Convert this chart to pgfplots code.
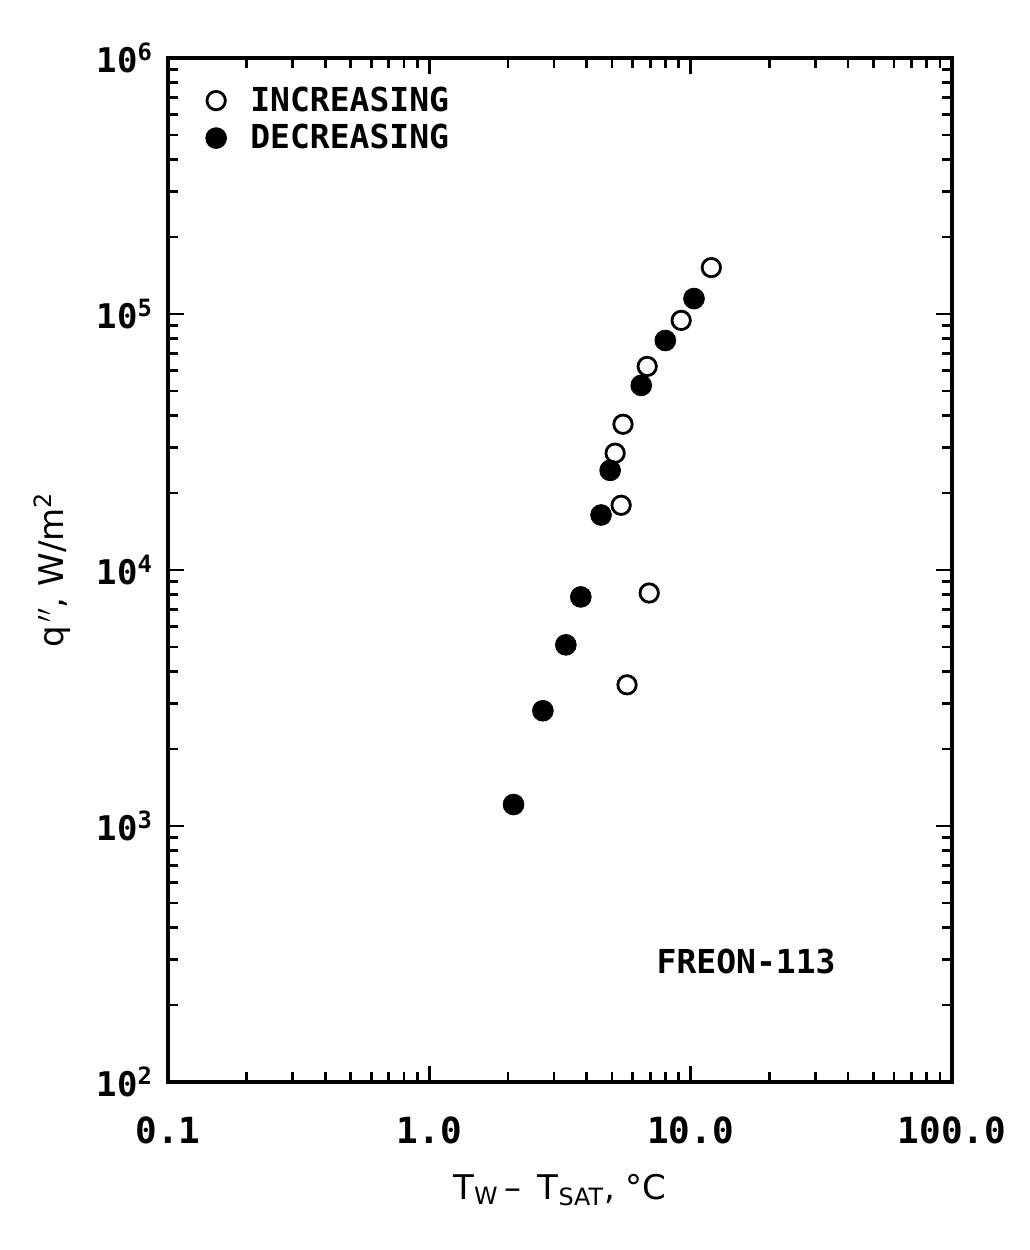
\documentclass[border=0pt]{standalone}
\usepackage{fontspec}
\setmainfont{DejaVu Sans}
\newfontfamily\tickfont{DejaVu Sans Mono}
\usepackage{pgfplots}
\pgfplotsset{compat=1.18}
\begin{document}
\begin{tikzpicture}
\begin{axis}[
  scale only axis,
  width=392pt, height=512pt,
  xmode=log, ymode=log,
  xmin=0.1, xmax=100, ymin=100, ymax=1000000,
  axis line style={line width=1.6pt},
  tick style={line width=1.4pt, black},
  tick align=inside,
  major tick length=8pt,
  minor tick length=5pt,
  xtick={0.1,1,10,100},
  xticklabels={0.1,1.0,10.0,100.0},
  ytick={100,1000,10000,100000,1000000},
  yticklabels={10\textsuperscript{2},10\textsuperscript{3},10\textsuperscript{4},10\textsuperscript{5},10\textsuperscript{6}},
  xticklabel style={font=\tickfont\bfseries\fontsize{18}{20}\selectfont, yshift=-14pt},
  yticklabel style={font=\tickfont\bfseries\fontsize{17}{20}\selectfont, xshift=-4pt},
  xlabel={T\textsubscript{W}\,-- \,T\textsubscript{SAT}, \textdegree C},
  ylabel={q\textsuperscript{\,$\prime\prime$}, W/m\textsuperscript{2}},
  xlabel style={font=\fontsize{17}{20}\selectfont, yshift=-8pt},
  ylabel style={font=\fontsize{17}{20}\selectfont, yshift=6pt},
  legend style={draw=none, fill=none, at={(0.04,0.98)}, anchor=north west,
    font=\tickfont\bfseries\fontsize{16.5}{19}\selectfont, row sep=1pt},
  legend cell align=left,
]
\addplot[only marks, mark=o, mark size=4.6pt, line width=1.4pt] coordinates {
  (12.0,151800) (9.2,94400) (6.82,62400) (5.51,37100) (5.14,28600)
  (5.42,17900) (6.94,8130) (5.71,3560)
};
\addlegendentry{\hspace{0.6em}INCREASING}
\addplot[only marks, mark=*, mark size=5.2pt, fill=black] coordinates {
  (10.3,114900) (8.0,78800) (6.47,52600) (4.92,24500) (4.54,16400)
  (3.80,7850) (3.33,5100) (2.72,2820) (2.10,1213)
};
\addlegendentry{\hspace{0.6em}DECREASING}
\node[font=\tickfont\bfseries\fontsize{16.5}{19}\selectfont] at (axis cs:16.3,296) {FREON-113};
\end{axis}
\pgfresetboundingbox
\path[use as bounding box] (-84pt,-84pt) rectangle (431pt,541pt);
\end{tikzpicture}
\end{document}
